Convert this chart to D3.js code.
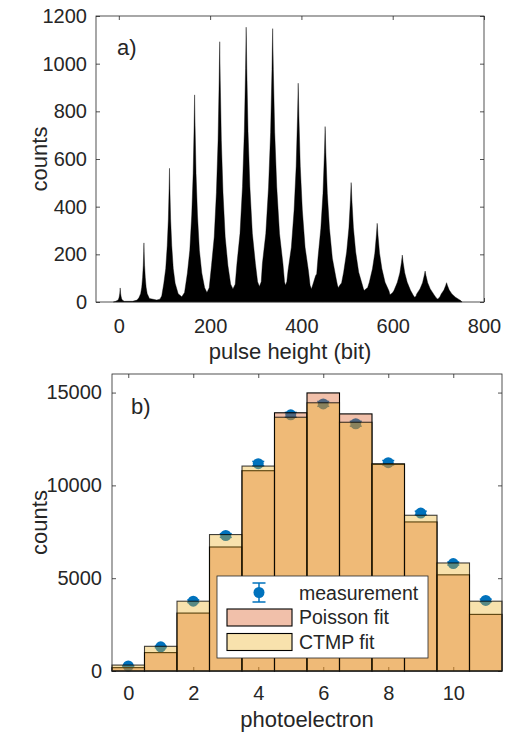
<!DOCTYPE html>
<html><head><meta charset="utf-8">
<script src="https://cdn.jsdelivr.net/npm/d3@7"></script>
<style>
body{margin:0;background:#fff}
svg{display:block}
text{font-family:"Liberation Sans",Arial,Helvetica,sans-serif;fill:#262626}
</style>
</head><body>
<svg id="c" width="508" height="736"></svg>
<script>
// ---------- Panel a) : pulse height spectrum (envelope read from picture) ----------
const histBits = [-12,-8,-1.5,0,1.2,2.1,2.7,3,3.3,3.9,4.8,6,7.5,12,30,40,44,
 47.8,50.2,52.1,53.56,54.52,55,55.48,56.44,57.9,59.8,62.2,67,83,90,94,
 98.6,102.75,106.05,108.52,110.17,111,111.83,113.48,115.95,119.25,123.4,130,138,144,
 150.25,155.5,159.7,162.85,164.95,166,167.05,169.15,172.3,176.5,181.75,188,193,198,
 203,209,213.8,217.4,219.8,221,222.2,224.6,228.2,233,239,245,250,255,
 258.75,265.5,270.9,274.95,277.65,279,280.35,283.05,287.1,292.5,299.25,304,308,312,
 314.5,322,328,332.5,335.5,337,338.5,341.5,346,352,359.5,363,365,368,
 370.5,378,384,388.5,391.5,393,394.5,397.5,402,408,415.5,419,422,427,431,433.5,
 436.25,442.55,447.27,450.42,452,453.58,456.73,461.45,467.75,475.6,479,481,484,
 488,492.5,499.1,504.05,507.35,509,510.65,513.95,518.9,525.5,533.75,536,538,541,
 545,548.75,555.65,560.82,564.27,566,567.73,571.18,576.35,583.25,591.9,594,597,
 600,603,610.2,615.6,619.2,621,622.8,626.4,631.8,639,645,648,651,
 652.25,659.75,665.4,669.1,671,672.9,676.6,682.25,689.75,695,698,701,
 704,706.3,712.15,716.05,718,719.95,723.85,729.7,737.5,745,749,752];
const histCounts = [0,2,8,15,25,37,50,59,50,37,25,15,8,3,3,8,18,
 35,62,104,154,211,248,211,154,104,62,35,15,8,12,25,
 79,140,236,348,477,561,477,348,236,140,79,35,22,40,
 122,217,365,539,739,869,739,539,365,217,122,60,40,60,
 153,273,459,677,928,1092,928,677,459,273,153,75,55,75,
 161,288,484,715,980,1153,980,715,484,288,161,85,65,85,
 161,287,482,711,975,1147,975,711,482,287,161,85,70,85,
 129,230,386,569,780,918,780,569,386,230,129,70,55,85,110,118,
 184,309,456,626,736,626,456,309,184,103,70,60,70,
 80,125,210,311,426,501,426,311,210,125,70,55,48,55,
 60,83,139,205,281,330,281,205,139,83,46,30,35,
 40,49,83,122,167,197,167,122,83,49,28,20,24,
 33,55,81,111,130,111,81,55,33,18,13,16,
 24,34,50,69,81,69,50,34,20,11,6,0];
const xTicksA = [0,200,400,600,800];
const yTicksA = [0,200,400,600,800,1000,1200];

// ---------- Panel b) : photoelectron distribution ----------
const photoelectrons = [0,1,2,3,4,5,6,7,8,9,10,11];
const measured    = [270,1300,3760,7300,11170,13800,14390,13320,11220,8510,5790,3800];
const measuredErr = [20,40,70,100,120,130,130,130,120,100,80,70];
const poissonFit  = [180,990,3120,6680,10790,13910,14980,13850,11130,8030,5180,3050];
const ctmpFit     = [320,1330,3760,7350,11040,13670,14450,13400,11170,8390,5820,3760];
const xTicksB = [0,2,4,6,8,10];
const yTicksB = [0,5000,10000,15000];
const legendLabels = ["measurement","Poisson fit","CTMP fit"];

const AX = "#262626";
const svg = d3.select("#c");
const tickFont = "20px", labelFont = "22px";

function styleAxis(g){
  g.selectAll(".domain").remove();
  g.selectAll(".tick line").attr("stroke",AX).attr("stroke-width",0.8);
  g.selectAll(".tick text").style("font-size",tickFont).attr("fill",AX);
}

// ================= Panel a =================
const A = {l:96, r:484, t:16, b:302};
const xA = d3.scaleLinear([-50,800],[A.l,A.r]);
const yA = d3.scaleLinear([0,1200],[A.b,A.t]);

svg.append("g").attr("transform",`translate(0,${A.b})`)
  .call(d3.axisBottom(xA).tickValues(xTicksA).tickSize(-4).tickPadding(17).tickFormat(d3.format("d")))
  .call(styleAxis);
svg.append("g").attr("transform",`translate(0,${A.t})`)
  .call(d3.axisTop(xA).tickValues(xTicksA).tickSize(-4).tickFormat(""))
  .call(styleAxis);
svg.append("g").attr("transform",`translate(${A.l},0)`)
  .call(d3.axisLeft(yA).tickValues(yTicksA).tickSize(-4).tickPadding(9).tickFormat(d3.format("d")))
  .call(styleAxis);
svg.append("g").attr("transform",`translate(${A.r},0)`)
  .call(d3.axisRight(yA).tickValues(yTicksA).tickSize(-4).tickFormat(""))
  .call(styleAxis);

const histData = histBits.map((b,i)=>[b,histCounts[i]]);
svg.append("path").datum(histData)
  .attr("d", d3.area().x(d=>xA(d[0])).y0(yA(0)).y1(d=>yA(d[1])))
  .attr("fill","#000").attr("stroke","#000").attr("stroke-width",0.4);

svg.append("rect").attr("x",A.l).attr("y",A.t).attr("width",A.r-A.l).attr("height",A.b-A.t)
  .attr("fill","none").attr("stroke",AX).attr("stroke-width",0.8);

svg.append("text").attr("x",117).attr("y",55).style("font-size","22px").attr("fill","#000").text("a)");
svg.append("text").attr("x",(A.l+A.r)/2).attr("y",359).attr("text-anchor","middle")
  .style("font-size",labelFont).text("pulse height (bit)");
svg.append("text").attr("transform",`translate(47,${(A.t+A.b)/2}) rotate(-90)`)
  .attr("text-anchor","middle").style("font-size",labelFont).text("counts");

// ================= Panel b =================
const B = {l:112, r:502, t:374, b:671};
const xB = d3.scaleLinear([-0.5,11.5],[B.l,B.r]);
const yB = d3.scaleLinear([0,16000],[B.b,B.t]);

svg.append("g").attr("transform",`translate(0,${B.b})`)
  .call(d3.axisBottom(xB).tickValues(xTicksB).tickSize(-4).tickPadding(15).tickFormat(d3.format("d")))
  .call(styleAxis);
svg.append("g").attr("transform",`translate(0,${B.t})`)
  .call(d3.axisTop(xB).tickValues(xTicksB).tickSize(-4).tickFormat(""))
  .call(styleAxis);
svg.append("g").attr("transform",`translate(${B.l},0)`)
  .call(d3.axisLeft(yB).tickValues(yTicksB).tickSize(-4).tickPadding(10).tickFormat(d3.format("d")))
  .call(styleAxis);
svg.append("g").attr("transform",`translate(${B.r},0)`)
  .call(d3.axisRight(yB).tickValues(yTicksB).tickSize(-4).tickFormat(""))
  .call(styleAxis);

const BLUE = "#0072BD";
const pts = svg.append("g");
photoelectrons.forEach((p,i)=>{
  const cx = xB(p), y0 = yB(measured[i]-measuredErr[i]), y1 = yB(measured[i]+measuredErr[i]);
  pts.append("line").attr("x1",cx).attr("x2",cx).attr("y1",y0).attr("y2",y1).attr("stroke",BLUE).attr("stroke-width",1.5);
  pts.append("line").attr("x1",cx-6).attr("x2",cx+6).attr("y1",y0).attr("y2",y0).attr("stroke",BLUE).attr("stroke-width",1.5);
  pts.append("line").attr("x1",cx-6).attr("x2",cx+6).attr("y1",y1).attr("y2",y1).attr("stroke",BLUE).attr("stroke-width",1.5);
  pts.append("circle").attr("cx",cx).attr("cy",yB(measured[i])).attr("r",5.5).attr("fill",BLUE);
});

const PFILL = "rgba(217,83,25,0.37)", CFILL = "rgba(237,177,32,0.37)";
svg.append("g").selectAll("rect").data(photoelectrons).join("rect")
  .attr("x",p=>xB(p-0.5)).attr("width",p=>xB(p+0.5)-xB(p-0.5))
  .attr("y",(p,i)=>yB(poissonFit[i])).attr("height",(p,i)=>yB(0)-yB(poissonFit[i]))
  .attr("fill",PFILL).attr("stroke","#000").attr("stroke-width",1.1);
svg.append("g").selectAll("rect").data(photoelectrons).join("rect")
  .attr("x",p=>xB(p-0.5)).attr("width",p=>xB(p+0.5)-xB(p-0.5))
  .attr("y",(p,i)=>yB(ctmpFit[i])).attr("height",(p,i)=>yB(0)-yB(ctmpFit[i]))
  .attr("fill",CFILL).attr("stroke","#000").attr("stroke-opacity",0.75).attr("stroke-width",1.1);

svg.append("rect").attr("x",B.l).attr("y",B.t).attr("width",B.r-B.l).attr("height",B.b-B.t)
  .attr("fill","none").attr("stroke",AX).attr("stroke-width",0.8);

// legend
const lg = svg.append("g");
lg.append("rect").attr("x",217).attr("y",576).attr("width",211).attr("height",82)
  .attr("fill","#fff").attr("stroke",AX).attr("stroke-width",0.8);
lg.append("line").attr("x1",259).attr("x2",259).attr("y1",583).attr("y2",602).attr("stroke",BLUE).attr("stroke-width",1.5);
lg.append("line").attr("x1",252.5).attr("x2",265.5).attr("y1",583).attr("y2",583).attr("stroke",BLUE).attr("stroke-width",1.5);
lg.append("line").attr("x1",252.5).attr("x2",265.5).attr("y1",602).attr("y2",602).attr("stroke",BLUE).attr("stroke-width",1.5);
lg.append("circle").attr("cx",259).attr("cy",592.5).attr("r",5.5).attr("fill",BLUE);
lg.append("rect").attr("x",227).attr("y",609).attr("width",65).attr("height",17).attr("fill",PFILL).attr("stroke","#000").attr("stroke-width",1.1);
lg.append("rect").attr("x",227).attr("y",633.5).attr("width",65).attr("height",17).attr("fill",CFILL).attr("stroke","#000").attr("stroke-width",1.1);
[600,624,649].forEach((y,i)=>{
  lg.append("text").attr("x",299).attr("y",y).style("font-size","19.5px").attr("fill","#000").text(legendLabels[i]);
});

svg.append("text").attr("x",131).attr("y",414).style("font-size","22px").attr("fill","#000").text("b)");
svg.append("text").attr("x",(B.l+B.r)/2).attr("y",727).attr("text-anchor","middle")
  .style("font-size",labelFont).text("photoelectron");
svg.append("text").attr("transform",`translate(47,${(B.t+B.b)/2}) rotate(-90)`)
  .attr("text-anchor","middle").style("font-size",labelFont).text("counts");
</script>
</body></html>
